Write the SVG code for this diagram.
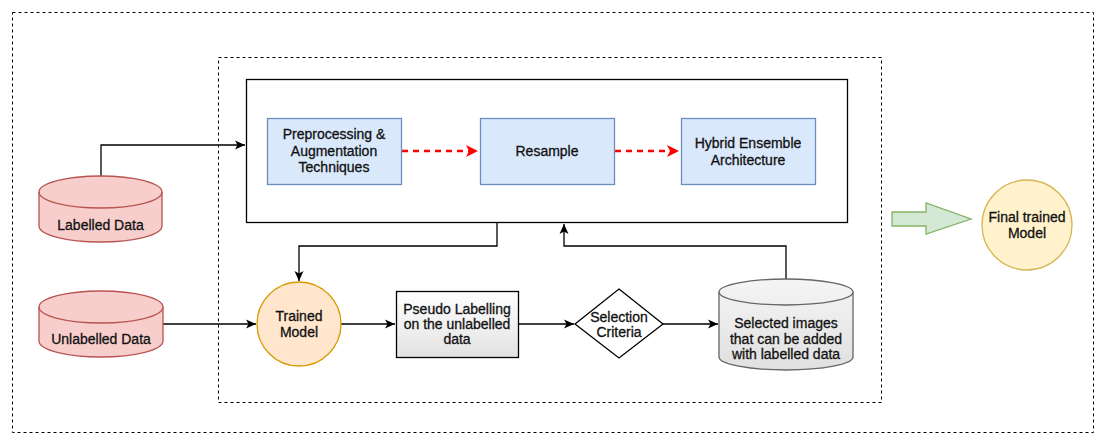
<svg xmlns="http://www.w3.org/2000/svg" width="1106" height="446" viewBox="0 0 1106 446">
<style>
text{font-family:"Liberation Sans",Arial,Helvetica,sans-serif;font-size:14px;fill:#111;stroke:#111;stroke-width:0.3;text-anchor:middle}
.dash{fill:none;stroke:#000;stroke-width:1;stroke-dasharray:3 3}
.conn{fill:none;stroke:#000;stroke-width:1.3}
.red{fill:none;stroke:#ff0000;stroke-width:2.5;stroke-dasharray:6 5}
.blue{fill:#dae8fc;stroke:#6c8ebf;stroke-width:1.3}
.pink{fill:#f8cecc;stroke:#b85450;stroke-width:1.3}
</style>
<defs>
<marker id="ab" markerUnits="userSpaceOnUse" markerWidth="12" markerHeight="12" viewBox="0 0 12 12" refX="10" refY="6" orient="auto">
<path d="M0,1.5 L10,6 L0,10.5 L2.5,6 Z" fill="#000"/>
</marker>
<marker id="ar" markerUnits="userSpaceOnUse" markerWidth="14" markerHeight="14" viewBox="0 0 14 14" refX="12" refY="7" orient="auto">
<path d="M0,1 L12,7 L0,13 L3,7 Z" fill="#ff0000"/>
</marker>
<linearGradient id="gp" x1="0" y1="0" x2="0" y2="1">
<stop offset="0" stop-color="#ffffff"/><stop offset="1" stop-color="#e2e2e2"/>
</linearGradient>
<linearGradient id="gc" x1="0" y1="0" x2="0" y2="1">
<stop offset="0" stop-color="#f5f5f5"/><stop offset="1" stop-color="#e0e0e0"/>
</linearGradient>
</defs>

<g id="outer-frame"><rect class="dash" x="12.5" y="12.5" width="1081" height="420"/></g>
<g id="inner-frame"><rect class="dash" x="218.5" y="57.5" width="663" height="345"/></g>
<g id="training-box"><rect x="246.5" y="79.5" width="601" height="143" fill="#fff" stroke="#000" stroke-width="1.3"/></g>

<g id="connectors">
<path class="conn" d="M101,176 V145 H245" marker-end="url(#ab)"/>
<path class="conn" d="M497,223 V246 H299 V281" marker-end="url(#ab)"/>
<path class="conn" d="M163,324 H256" marker-end="url(#ab)"/>
<path class="conn" d="M341,324 H395" marker-end="url(#ab)"/>
<path class="conn" d="M519,324 H574" marker-end="url(#ab)"/>
<path class="conn" d="M663,324 H718" marker-end="url(#ab)"/>
<path class="conn" d="M786,279 V246 H564 V224" marker-end="url(#ab)"/>
<path class="red" d="M402,151 H478" marker-end="url(#ar)"/>
<path class="red" d="M615,151 H679" marker-end="url(#ar)"/>
<polygon points="892,212 926,212 926,203 971,219 926,234 926,226 892,226" fill="#d5e8d4" stroke="#82b366" stroke-width="1.3"/>
</g>

<g id="preprocessing">
<rect class="blue" x="267.5" y="118.5" width="134" height="66"/>
<text x="334" y="139">Preprocessing &amp;</text>
<text x="334" y="155.5">Augmentation</text>
<text x="334" y="172">Techniques</text>
</g>
<g id="resample">
<rect class="blue" x="480.5" y="118.5" width="134" height="66"/>
<text x="547" y="156">Resample</text>
</g>
<g id="hybrid">
<rect class="blue" x="681.5" y="118.5" width="134" height="66"/>
<text x="748" y="148">Hybrid Ensemble</text>
<text x="748" y="164.5">Architecture</text>
</g>

<g id="labelled-data">
<path class="pink" d="M39,192 A61.5,16 0 0 1 162,192 V226 A61.5,16 0 0 1 39,226 Z"/>
<path d="M39,192 A61.5,16 0 0 0 162,192" fill="none" stroke="#b85450" stroke-width="1.3"/>
<text x="100.5" y="230">Labelled Data</text>
</g>
<g id="unlabelled-data">
<path class="pink" d="M39,307 A62,16 0 0 1 163,307 V341 A62,16 0 0 1 39,341 Z"/>
<path d="M39,307 A62,16 0 0 0 163,307" fill="none" stroke="#b85450" stroke-width="1.3"/>
<text x="101" y="344">Unlabelled Data</text>
</g>

<g id="trained-model">
<circle cx="299" cy="324" r="42" fill="#ffe6cc" stroke="#d79b00" stroke-width="1.3"/>
<text x="299" y="321">Trained</text>
<text x="299" y="337">Model</text>
</g>
<g id="pseudo-labelling">
<rect x="396.5" y="291.5" width="122" height="66" fill="url(#gp)" stroke="#000" stroke-width="1.3"/>
<text x="457" y="314">Pseudo Labelling</text>
<text x="457" y="329">on the unlabelled</text>
<text x="457" y="344">data</text>
</g>
<g id="selection-criteria">
<polygon points="619,289 663,324 619,358 575,324" fill="#fff" stroke="#000" stroke-width="1.3"/>
<text x="619" y="322">Selection</text>
<text x="619" y="337">Criteria</text>
</g>
<g id="selected-images">
<path d="M719,292 A67,13 0 0 1 853,292 V357 A67,13 0 0 1 719,357 Z" fill="url(#gc)" stroke="#666" stroke-width="1.3"/>
<path d="M719,292 A67,13 0 0 0 853,292" fill="none" stroke="#666" stroke-width="1.3"/>
<text x="786" y="328">Selected images</text>
<text x="786" y="343.5">that can be added</text>
<text x="786" y="359">with labelled data</text>
</g>

<g id="final-model">
<circle cx="1027" cy="225" r="45" fill="#fff2cc" stroke="#d6b656" stroke-width="1.3"/>
<text x="1027" y="222">Final trained</text>
<text x="1027" y="238">Model</text>
</g>
</svg>
